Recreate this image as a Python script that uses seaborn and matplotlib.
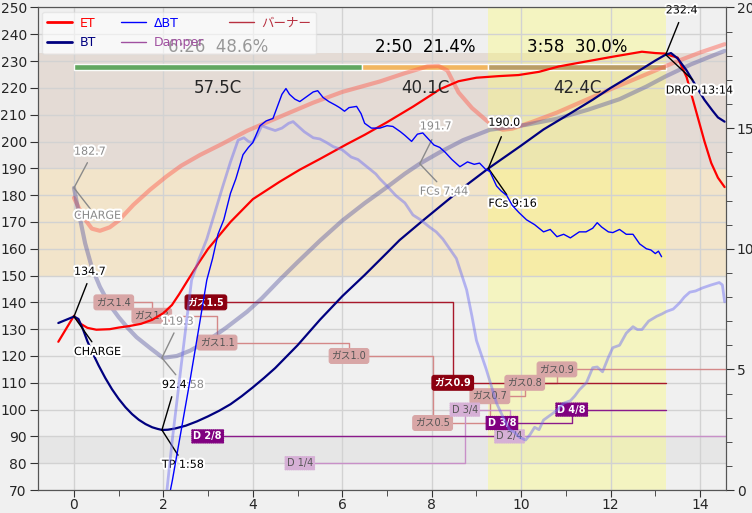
import matplotlib
matplotlib.use("Agg")
import matplotlib.pyplot as plt
import matplotlib.patheffects as pe
from matplotlib.lines import Line2D
import seaborn as sns

# ---- key events (seconds from CHARGE) ----
charge_s, tp_s, dry_s, fcs_s, drop_s = 0, 118, 386, 556, 794
bg_tp_s, bg_fcs_s = 118, 464
phase_delta = ["57.5C", "40.1C", "42.4C"]

# ---- foreground curves ----
bt_t = [-0.35, 0.0, 0.1, 0.2, 0.3, 0.42, 0.55, 0.7, 0.85, 1.0, 1.15, 1.3, 1.45, 1.6, 1.75, 1.87,
        1.97, 2.1, 2.25, 2.5, 2.75, 3.0, 3.25, 3.5, 3.75, 4.0, 4.25, 4.5, 5.0, 5.5, 6.0, 6.5, 7.0,
        7.28, 7.75, 8.18, 8.7, 9.27, 9.7, 10.0, 10.5, 11.0, 11.6, 12.0, 12.5, 13.0, 13.23, 13.35,
        13.5, 13.7, 13.9, 14.1, 14.28, 14.4, 14.55]
bt = [132.3, 134.7, 133.8, 130.0, 125.5, 121.0, 116.5, 111.8, 107.6, 104.0, 100.9, 98.3, 96.2,
      94.6, 93.4, 92.8, 92.4, 92.5, 92.9, 94.0, 95.6, 97.5, 99.6, 102.0, 105.0, 108.3, 111.8,
      115.5, 124.0, 133.5, 142.3, 150.2, 158.5, 163.2, 169.8, 175.7, 182.8, 190.0, 195.0, 198.5,
      204.5, 209.5, 215.6, 220.0, 225.0, 230.2, 232.4, 233.0, 231.0, 226.5, 221.0, 215.5, 211.5,
      209.0, 207.4]

et_t = [-0.35, 0.0, 0.15, 0.3, 0.5, 0.8, 1.0, 1.25, 1.5, 1.75, 2.0, 2.19, 2.35, 2.55, 2.8, 3.0,
        3.2, 3.5, 4.0, 4.6, 5.05, 5.5, 6.1, 6.5, 7.0, 7.58, 8.0, 8.18, 8.6, 9.0, 9.5, 9.94, 10.4,
        10.84, 11.5, 12.0, 12.7, 13.0, 13.23, 13.35, 13.5, 13.7, 13.9, 14.1, 14.25, 14.4, 14.55]
et = [125.3, 135.0, 132.0, 130.5, 129.8, 130.0, 130.6, 131.2, 132.0, 133.5, 136.0, 139.0, 143.0,
      148.4, 155.0, 160.0, 164.0, 170.0, 178.5, 185.0, 189.5, 193.5, 199.0, 202.5, 207.2, 213.0,
      217.5, 219.5, 222.5, 223.8, 224.4, 224.8, 226.0, 228.0, 230.0, 231.5, 233.5, 233.0, 232.8,
      232.0, 231.3, 224.0, 212.0, 200.0, 192.0, 186.5, 183.0]

ror_t = [2.05, 2.2, 2.4, 2.6, 2.8, 2.97, 3.1, 3.22, 3.35, 3.5, 3.62, 3.78, 3.9, 4.0, 4.16, 4.3,
         4.45, 4.55, 4.65, 4.74, 4.82, 4.94, 5.05, 5.2, 5.35, 5.45, 5.57, 5.7, 5.85, 5.94, 6.05,
         6.15, 6.32, 6.42, 6.5, 6.65, 6.84, 7.0, 7.13, 7.3, 7.4, 7.55, 7.68, 7.8, 7.95, 8.05, 8.18,
         8.3, 8.45, 8.63, 8.8, 8.95, 9.07, 9.2, 9.3, 9.45, 9.55, 9.68, 9.8, 9.95, 10.12, 10.3, 10.5,
         10.65, 10.8, 10.95, 11.1, 11.3, 11.45, 11.6, 11.7, 11.8, 11.95, 12.05, 12.2, 12.35, 12.5,
         12.65, 12.8, 12.9, 13.0, 13.07, 13.14]
ror = [-1.0, 0.4, 2.5, 4.6, 6.8, 8.7, 9.6, 10.6, 11.2, 12.3, 12.9, 13.9, 14.2, 14.4, 15.1, 15.3,
       15.4, 15.9, 16.4, 16.64, 16.4, 16.2, 16.1, 16.3, 16.5, 16.55, 16.27, 16.1, 15.95, 15.85,
       15.7, 15.85, 15.9, 15.6, 15.2, 15.0, 15.0, 15.1, 15.07, 14.85, 14.7, 14.45, 14.75, 14.8,
       14.5, 14.3, 14.2, 14.0, 13.7, 13.4, 13.6, 13.5, 13.55, 13.3, 13.2, 12.6, 12.4, 12.2, 11.8,
       11.5, 11.2, 11.0, 10.7, 10.8, 10.5, 10.6, 10.45, 10.7, 10.7, 10.85, 11.08, 10.9, 10.7,
       10.67, 10.8, 10.6, 10.6, 10.2, 10.0, 9.95, 9.8, 9.9, 9.67]

# ---- background (reference) curves ----
bg_et_t = [0.0, 0.2, 0.4, 0.58, 0.8, 1.0, 1.33, 1.7, 2.07, 2.4, 2.82, 3.3, 3.87, 4.5, 5.35, 6.0,
           6.84, 7.4, 7.9, 8.15, 8.35, 8.6, 8.9, 9.2, 9.4, 9.59, 9.8, 10.26, 10.8, 11.46, 12.0,
           12.5, 13.0, 13.5, 14.0, 14.55]
bg_et = [179.0, 172.0, 167.5, 166.7, 168.0, 170.5, 176.4, 182.0, 187.0, 191.0, 195.0, 199.0,
         204.0, 208.5, 214.5, 218.5, 222.4, 225.5, 228.0, 228.2, 226.5, 218.3, 212.5, 208.2,
         205.5, 204.4, 204.8, 207.4, 210.8, 215.6, 219.5, 223.0, 226.5, 230.0, 233.2, 236.3]

bg_bt_t = [0.0, 0.1, 0.25, 0.4, 0.58, 0.8, 1.0, 1.2, 1.4, 1.7, 1.99, 2.3, 2.6, 2.97, 3.4, 3.87,
           4.2, 4.6, 5.0, 5.5, 6.0, 6.5, 7.0, 7.4, 7.73, 8.18, 8.7, 9.3, 10.1, 10.8, 11.5, 12.2,
           12.8, 13.23, 13.8, 14.2, 14.55]
bg_bt = [182.7, 174.0, 162.0, 153.0, 145.8, 139.0, 134.5, 130.5, 127.0, 123.0, 119.3, 120.0,
         122.0, 125.5, 130.5, 136.5, 141.5, 148.4, 155.0, 163.0, 170.5, 177.0, 183.0, 188.0,
         191.7, 196.0, 200.5, 204.4, 206.2, 208.5, 211.9, 215.8, 220.5, 224.3, 228.8, 231.5,
         233.8]

bg_ror_t = [2.05, 2.2, 2.4, 2.63, 2.8, 2.97, 3.15, 3.33, 3.5, 3.67, 3.8, 3.9, 3.98, 4.1, 4.2,
            4.34, 4.5, 4.65, 4.8, 4.9, 5.0, 5.15, 5.35, 5.5, 5.65, 5.8, 6.0, 6.2, 6.35, 6.55,
            6.75, 6.84, 7.0, 7.2, 7.4, 7.58, 7.75, 7.95, 8.1, 8.25, 8.4, 8.55, 8.78, 8.9, 9.0,
            9.22, 9.45, 9.6, 9.74, 9.85, 9.95, 10.1, 10.2, 10.3, 10.4, 10.5, 10.65, 10.8, 10.95,
            11.1, 11.2, 11.3, 11.46, 11.6, 11.7, 11.82, 11.95, 12.05, 12.2, 12.35, 12.5, 12.6,
            12.7, 12.85, 13.03, 13.15, 13.25, 13.4, 13.54, 13.65, 13.77, 13.9, 14.06, 14.25,
            14.43, 14.5, 14.55]
bg_ror = [-0.5, 2.1, 5.2, 8.7, 9.6, 10.4, 11.5, 12.6, 13.6, 14.5, 14.6, 14.45, 14.4, 14.7, 15.1,
          15.0, 14.9, 15.0, 15.2, 15.27, 15.1, 14.85, 14.6, 14.55, 14.4, 14.23, 14.1, 13.8, 13.7,
          13.4, 13.1, 12.9, 12.6, 12.2, 11.9, 11.4, 11.2, 10.9, 10.7, 10.4, 10.0, 9.6, 8.3, 7.2,
          6.2, 5.0, 3.6, 3.0, 2.5, 2.4, 2.2, 2.07, 2.3, 2.6, 2.5, 2.9, 3.1, 3.3, 3.6, 3.7, 3.9,
          4.15, 4.45, 5.07, 5.1, 4.9, 5.5, 5.9, 6.0, 6.5, 6.77, 6.65, 6.65, 7.0, 7.2, 7.3, 7.4,
          7.5, 7.75, 8.0, 8.2, 8.25, 8.38, 8.5, 8.6, 8.5, 7.8]

# ---- events ----
gas_t = [2.95, 8.47]
gas_v = [1.5, 0.9]
bg_gas_t = [0.89, 1.74, 3.2, 6.15, 8.02, 9.3, 10.08, 10.8]
bg_gas_v = [1.4, 1.3, 1.1, 1.0, 0.5, 0.7, 0.8, 0.9]
damper_t = [2.99, 9.57, 11.13]
damper_v = [2 / 8, 3 / 8, 4 / 8]
damper_lbl = ["D 2/8", "D 3/8", "D 4/8"]
bg_damper_t = [5.05, 8.74, 9.74]
bg_damper_v = [1 / 4, 3 / 4, 2 / 4]
bg_damper_lbl = ["D 1/4", "D 3/4", "D 2/4"]


def mmss(s):
    return f"{int(s // 60)}:{int(s % 60):02d}"


sns.set_style("ticks")
plt.rcParams["font.family"] = ["DejaVu Sans", "Noto Sans CJK JP"]

GRAY = "#f0f0f0"
fig = plt.figure(figsize=(7.52, 5.13), dpi=100, facecolor=GRAY)
ax = fig.add_axes([0.0505, 0.0448, 0.9143, 0.9406])
ax.set_facecolor(GRAY)
ax2 = ax.twinx()

xmax = 14.57
ax.set_xlim(-0.805, xmax)
ax.set_ylim(70, 250)
ax2.set_ylim(0, 20)

charge, dry, fcs, drop = [s / 60 for s in (charge_s, dry_s, fcs_s, drop_s)]

# zones
ax.axhspan(80, 90, color="#e6e6e6", lw=0, zorder=0.1)
ax.axhspan(150, 190, color="#f2e4ca", lw=0, zorder=0.1)
ax.axhspan(190, 233.2, color="#e4dbd5", lw=0, zorder=0.1)
ax.axvspan(fcs, drop, color="#ffff60", alpha=0.32, lw=0, zorder=0.15)

ax.set_axisbelow(True)
ax.grid(True, color="#d2d2d2", lw=1)
ax.set_xticks(range(0, 15, 2))
ax.set_xticks(range(1, 15, 2), minor=True)
ax.set_yticks(range(70, 251, 10))
ax2.set_yticks(range(0, 21, 5))
ax2.set_yticks(range(0, 21, 1), minor=True)
for a in (ax, ax2):
    a.tick_params(which="major", length=6, color="#333", labelsize=10, pad=2, direction="out")
    a.tick_params(which="minor", length=4, color="#333", direction="out")
    for sp in a.spines.values():
        sp.set_color("#555")
ax.tick_params(axis="x", which="major", length=5, pad=1)

# phase bar
bounds = [charge, dry, fcs, drop]
ax.barh(y=[227.95] * 3, width=[bounds[i + 1] - bounds[i] for i in range(3)], left=bounds[:3],
        height=2.3, color=["#5aa55a", "#f2b45a", "#b89a62"], alpha=0.95, zorder=2)
phase_s = [charge_s, dry_s, fcs_s, drop_s]
for i in range(3):
    cx = (bounds[i] + bounds[i + 1]) / 2
    dur = phase_s[i + 1] - phase_s[i]
    ax.text(cx, 235.4, f"{mmss(dur)}  {100 * dur / drop_s:.1f}%", ha="center", va="center",
            fontsize=12, color="black", zorder=6)
    ax.text(cx, 220.1, phase_delta[i], ha="center", va="center", fontsize=12, zorder=6)

# event step lines and boxes
def events(tt, levels, labels, end, lc, fc, tc, style, weight, z):
    xs = list(tt) + [end]
    ys = list(levels) + [levels[-1]]
    ax.plot(xs, ys, drawstyle="steps-post", color=lc, lw=1, zorder=z)
    for t, y, s in zip(tt, levels, labels):
        ax.text(t, y, s, ha="center", va="center", fontsize=7, color=tc, fontweight=weight,
                zorder=z + 2, bbox=dict(boxstyle=style, fc=fc, ec=fc, lw=0.8))


events(bg_gas_t, [70 + 50 * v for v in bg_gas_v], [f"ガス{v:.1f}" for v in bg_gas_v], xmax,
       "#d48888", "#d8a6a6", "#555555", "round,pad=0.25", "normal", 2)
events(bg_damper_t, [70 + 40 * v for v in bg_damper_v], bg_damper_lbl, xmax,
       "#c890c8", "#d6b0d6", "#555555", "roundtooth,pad=0.2", "normal", 2)
events(gas_t, [65 + 50 * v for v in gas_v], [f"ガス{v:.1f}" for v in gas_v], drop,
       "#a8182a", "#8b0010", "white", "round,pad=0.25", "bold", 2.5)
events(damper_t, [80 + 40 * v for v in damper_v], damper_lbl, drop,
       "#8b1a8b", "#800080", "white", "roundtooth,pad=0.2", "bold", 2.5)

# background curves
sns.lineplot(x=bg_et_t, y=bg_et, ax=ax, color="#ff5a4a", alpha=0.45, lw=3, sort=False,
             estimator=None, zorder=3)
sns.lineplot(x=bg_bt_t, y=bg_bt, ax=ax, color="#5555a0", alpha=0.42, lw=3, sort=False,
             estimator=None, zorder=3)
# foreground curves
sns.lineplot(x=et_t, y=et, ax=ax, color="red", lw=1.6, sort=False, estimator=None, zorder=5)
sns.lineplot(x=bt_t, y=bt, ax=ax, color="#00007f", lw=1.6, sort=False, estimator=None, zorder=5)
sns.lineplot(x=bg_ror_t, y=bg_ror, ax=ax2, color="#7070f0", alpha=0.48, lw=2, sort=False,
             estimator=None, zorder=3)
sns.lineplot(x=ror_t, y=ror, ax=ax2, color="blue", lw=1, sort=False, estimator=None, zorder=5)

# point annotations
halo = [pe.withStroke(linewidth=3, foreground="white")]


def mark(x, y, top, ytop, up, bottom, ybot, down, color, z):
    ax.plot([x, x + up[0]], [y, y + up[1]], color=color, lw=1, zorder=z)
    ax.plot([x, x + down[0]], [y, y + down[1]], color=color, lw=1, zorder=z)
    ax.text(x, ytop, top, ha="left", va="center", fontsize=8, color=color, zorder=z,
            path_effects=halo)
    ax.text(x, ybot, bottom, ha="left", va="center", fontsize=8, color=color, zorder=z,
            path_effects=halo)


bgc = "#8a8a8a"
mark(0, bg_bt[0], f"{bg_bt[0]:.1f}", 196.2, (0.3, 9.4), "CHARGE", 172.3, (0.36, -7.7), bgc, 6)
mark(bg_tp_s / 60, min(bg_bt), f"{min(bg_bt):.1f}", 132.8, (0.27, 9.3),
     f"TP {mmss(bg_tp_s)}", 109.2, (0.31, -6.3), bgc, 6)
mark(bg_fcs_s / 60, 191.7, "191.7", 205.6, (0.27, 9.0), f"FCs {mmss(bg_fcs_s)}", 181.3,
     (0.38, -6.7), bgc, 6)
mark(0, 134.7, "134.7", 151.4, (0.29, 12.3), "CHARGE", 121.5, (0.4, -9.4), "black", 7)
mark(tp_s / 60, min(bt), f"{min(bt):.1f}", 109.2, (0.22, 12.4), f"TP {mmss(tp_s)}", 79.4,
     (0.36, -9.4), "black", 7)
mark(fcs, 190.0, "190.0", 207.0, (0.29, 11.8), f"FCs {mmss(fcs_s)}", 176.8, (0.41, -9.8),
     "black", 7)
mark(drop, 232.4, "232.4", 248.9, (0.29, 12.0), f"DROP {mmss(drop_s)}", 219.0, (0.6, -9.4),
     "black", 7)

# legend
names = ["ET", "BT", "ΔBT", "Damper", "バーナー"]
cols = ["red", "#00007f", "blue", "#a050a0", "#b83040"]
widths = [2, 2, 1, 1, 1]
handles = [Line2D([], [], color=c, lw=w) for c, w in zip(cols, widths)]
leg = ax2.legend(handles, names, loc="upper left", ncol=3, fontsize=9, framealpha=0.6,
                 borderaxespad=0.35, handlelength=2.0, handletextpad=0.6, columnspacing=2.0,
                 labelspacing=0.5, edgecolor="#dddddd", facecolor="white")
for txt, c in zip(leg.get_texts(), cols):
    txt.set_color(c)
ax.set_xlabel("")
ax.set_ylabel("")
ax2.set_ylabel("")

fig.savefig("out.png", dpi=100, facecolor=GRAY)
